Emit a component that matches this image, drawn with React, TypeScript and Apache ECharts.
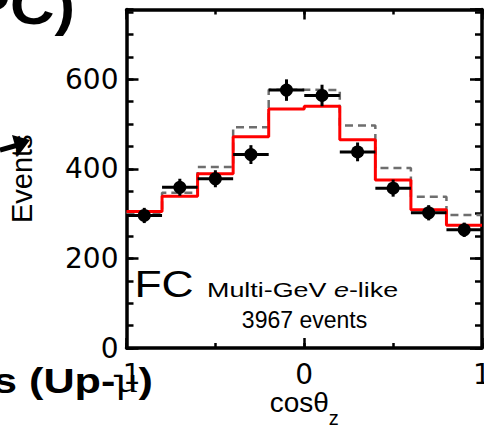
import React, { useEffect, useRef } from "react";
import * as echarts from "echarts";

// Zenith-angle bins (cos theta_z), width 0.2
const binCenters = [-0.9, -0.7, -0.5, -0.3, -0.1, 0.1, 0.3, 0.5, 0.7, 0.9];
const binWidth = 0.2;
// Data (black points) and statistical errors
const dataEvents = [296, 359, 378, 432, 576, 564, 438, 357, 302, 264];
const dataErrors = [17, 19, 19, 21, 24, 24, 21, 19, 17, 16];
// MC with oscillation (red solid)
const mcOsc = [305, 339, 389, 472, 534, 540, 465, 375, 309, 274];
// MC without oscillation (gray dashed)
const mcNoOsc = [302, 347, 404, 493, 577, 576, 497, 402, 338, 297];
// Axis ranges/ticks
const xMin = -1;
const xMax = 1;
const yMin = 0;
const yMax = 756;
const yMajor = 200;
const yMinor = 50;
const xMajor = 1;
const xMinor = 0.5;

function stepData(values: number[]) {
  const pts: [number, number][] = values.map((v, i) => [binCenters[i] - binWidth / 2, v]);
  pts.push([binCenters[binCenters.length - 1] + binWidth / 2, values[values.length - 1]]);
  return pts;
}

export default function App() {
  const ref = useRef<HTMLDivElement>(null);
  useEffect(() => {
    if (!ref.current) return;
    const chart = echarts.init(ref.current, null, { renderer: "svg" });
    const black = "#000";
    const frameLine = { show: true, onZero: false, lineStyle: { color: black, width: 3.5 } };
    const noLine = { show: false, onZero: false };
    const tick = (len: number) => ({ show: true, inside: true, length: len, lineStyle: { color: black, width: 2.5 } });
    const noLabel = { show: false };
    const noSplit = { show: false };
    const sans = "Liberation Sans";

    const option: any = {
      animation: false,
      grid: { left: 126.5, top: 9.5, right: 2, bottom: 80, containLabel: false, outerBoundsMode: "none" },
      xAxis: [
        {
          type: "value", position: "bottom", min: xMin, max: xMax, interval: xMajor,
          axisLine: frameLine, axisTick: tick(10), splitLine: noSplit,
          axisLabel: { margin: 19, lineHeight: 14, fontSize: 28, fontFamily: "DejaVu Sans", color: black, formatter: (v: number) => String(v) },
          name: "{a|cosθ}{z|z}", nameLocation: "middle", nameGap: 34, nameMoveOverlap: false,
          nameTextStyle: {
            color: black, fontFamily: sans, fontSize: 28,
            rich: {
              a: { color: black, fontFamily: sans, fontSize: 28 },
              z: { color: black, fontFamily: sans, fontSize: 20, padding: [31, 0, 0, 0], lineHeight: 40 },
            },
          },
        },
        { type: "value", position: "bottom", min: xMin, max: xMax, interval: xMinor, axisLine: noLine, axisTick: tick(5), axisLabel: noLabel, splitLine: noSplit },
        { type: "value", position: "top", min: xMin, max: xMax, interval: xMajor, axisLine: frameLine, axisTick: tick(10), axisLabel: noLabel, splitLine: noSplit },
        { type: "value", position: "top", min: xMin, max: xMax, interval: xMinor, axisLine: noLine, axisTick: tick(5), axisLabel: noLabel, splitLine: noSplit },
      ],
      yAxis: [
        {
          type: "value", position: "left", min: yMin, max: yMax, interval: yMajor,
          axisLine: frameLine, axisTick: tick(12), splitLine: noSplit,
          axisLabel: {
            margin: 8, fontSize: 28, fontFamily: "DejaVu Sans", color: black, showMaxLabel: false,
            formatter: (v: number) => (v % yMajor === 0 ? String(v) : ""),
          },
          name: "Events", nameLocation: "middle", nameRotate: 90, nameGap: 90, nameMoveOverlap: false,
          nameTextStyle: { color: black, fontFamily: sans, fontSize: 29 },
        },
        { type: "value", position: "left", min: yMin, max: yMax, interval: yMinor, axisLine: noLine, axisTick: tick(7), axisLabel: noLabel, splitLine: noSplit },
        { type: "value", position: "right", min: yMin, max: yMax, interval: yMajor, axisLine: frameLine, axisTick: tick(12), axisLabel: noLabel, splitLine: noSplit },
        { type: "value", position: "right", min: yMin, max: yMax, interval: yMinor, axisLine: noLine, axisTick: tick(7), axisLabel: noLabel, splitLine: noSplit },
      ],
      series: [
        {
          name: "No oscillation", type: "line", step: "end", symbol: "none", z: 2,
          xAxisIndex: 0, yAxisIndex: 0,
          data: stepData(mcNoOsc),
          lineStyle: { color: "#6e6e6e", width: 2.5, type: [8, 5] },
        },
        {
          name: "Oscillation", type: "line", step: "end", symbol: "none", z: 3,
          xAxisIndex: 0, yAxisIndex: 0,
          data: stepData(mcOsc),
          lineStyle: { color: "#ff0000", width: 3 },
        },
        {
          name: "Data", type: "custom", z: 4, xAxisIndex: 0, yAxisIndex: 0,
          data: binCenters.map((c, i) => [c, dataEvents[i], dataErrors[i]]),
          encode: { x: 0, y: 1 },
          renderItem: (params: any, api: any) => {
            const c = api.value(0);
            const v = api.value(1);
            const e = api.value(2);
            const p = api.coord([c, v]);
            const l = api.coord([c - binWidth / 2, v]);
            const r = api.coord([c + binWidth / 2, v]);
            const t = api.coord([c, v + e]);
            const b = api.coord([c, v - e]);
            return {
              type: "group",
              children: [
                { type: "line", shape: { x1: l[0], y1: l[1], x2: r[0], y2: r[1] }, style: { stroke: black, lineWidth: 3 } },
                { type: "line", shape: { x1: t[0], y1: t[1], x2: b[0], y2: b[1] }, style: { stroke: black, lineWidth: 3 } },
                { type: "circle", shape: { cx: p[0], cy: p[1], r: 6.5 }, style: { fill: black } },
              ],
            };
          },
        },
      ],
      graphic: [
        {
          type: "text", x: 75, y: 4.6, scaleX: 1.1, z: 10,
          style: { text: "PC)", fill: black, fontFamily: sans, fontWeight: "bold", fontSize: 56, align: "right", verticalAlign: "middle" },
        },
        {
          type: "text", x: -7, y: 380.4, scaleX: 1.2, z: 10,
          style: {
            text: "{b|s (Up-}{m|μ}{b|)}", fill: black, align: "left", verticalAlign: "middle",
            rich: {
              b: { fill: black, fontFamily: sans, fontWeight: "bold", fontSize: 36 },
              m: { fill: black, fontFamily: "Liberation Serif", fontSize: 36 },
            },
          },
        },
        {
          type: "text", x: 134.4, y: 283.9, scaleX: 1.2, z: 10,
          style: { text: "FC", fill: black, fontFamily: sans, fontSize: 37, align: "left", verticalAlign: "middle" },
        },
        {
          type: "text", x: 207, y: 289.7, scaleX: 1.28, z: 10,
          style: {
            text: "{a|Multi-GeV }{i|e}{a|-like}", fill: black, align: "left", verticalAlign: "middle",
            rich: {
              a: { fill: black, fontFamily: sans, fontSize: 21 },
              i: { fill: black, fontFamily: sans, fontSize: 21, fontStyle: "italic" },
            },
          },
        },
        {
          type: "text", x: 304.5, y: 320.3, z: 10,
          style: { text: "3967 events", fill: black, fontFamily: sans, fontSize: 23, align: "center", verticalAlign: "middle" },
        },
        {
          type: "line", z: 10,
          shape: { x1: 0, y1: 150, x2: 18, y2: 145 },
          style: { stroke: black, lineWidth: 5 },
        },
        {
          type: "polygon", z: 10,
          shape: { points: [[30, 140], [12, 135], [18, 156]] },
          style: { fill: black },
        },
      ],
    };
    chart.setOption(option);
    return () => chart.dispose();
  }, []);
  return <div ref={ref} style={{ position: "absolute", left: 0, top: 0, width: 484, height: 428 }} />;
}
